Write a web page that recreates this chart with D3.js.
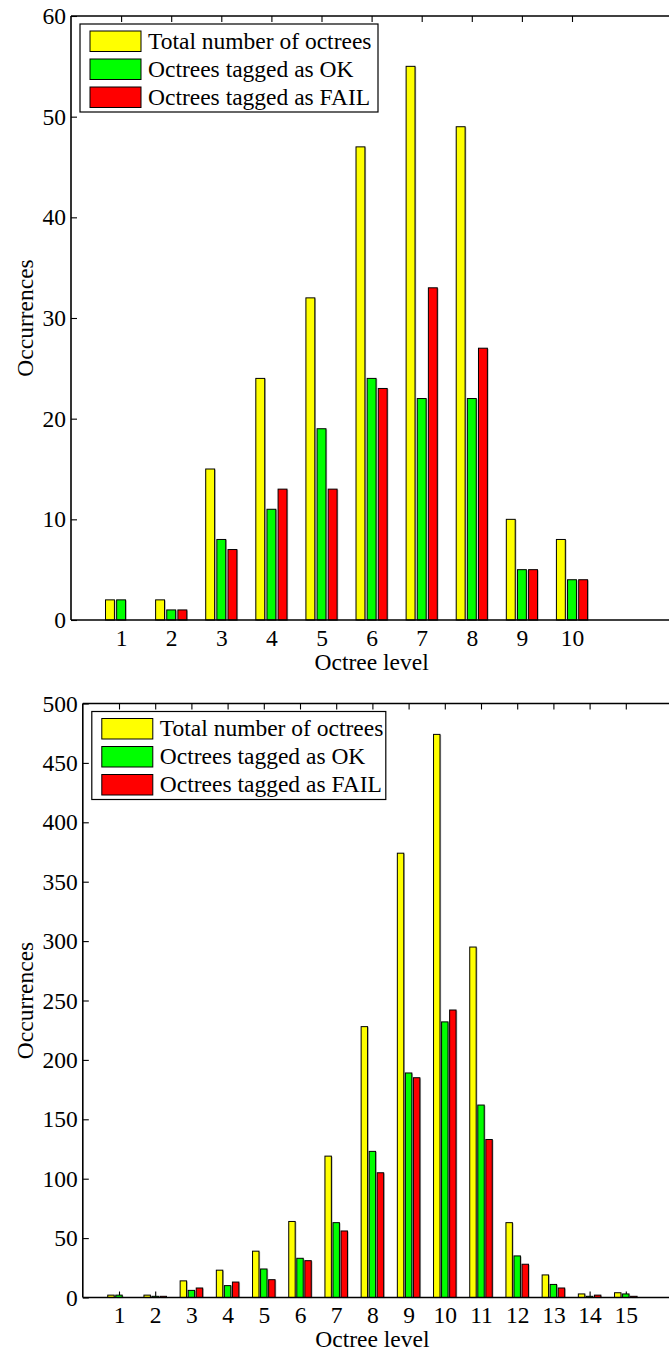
<!DOCTYPE html>
<html>
<head>
<meta charset="utf-8">
<script src="https://cdn.jsdelivr.net/npm/d3@7"></script>
<style>
  html, body { margin: 0; padding: 0; background: #fff; }
  svg { display: block; }
  text { font-family: "Liberation Serif", "Times New Roman", serif; fill: #000; }
</style>
</head>
<body>
<svg id="chart" width="669" height="1351"></svg>
<script>
// Series names and colours
const seriesNames = ["Total number of octrees", "Octrees tagged as OK", "Octrees tagged as FAIL"];
const seriesColors = ["#ffff00", "#00ff00", "#ff0000"];

// Upper panel: octree levels 1..10
const levelsA = [1, 2, 3, 4, 5, 6, 7, 8, 9, 10];
const totalA  = [2, 2, 15, 24, 32, 47, 55, 49, 10, 8];
const okA     = [2, 1, 8, 11, 19, 24, 22, 22, 5, 4];
const failA   = [0, 1, 7, 13, 13, 23, 33, 27, 5, 4];
const yTicksA = [0, 10, 20, 30, 40, 50, 60];

// Lower panel: octree levels 1..15
const levelsB = [1, 2, 3, 4, 5, 6, 7, 8, 9, 10, 11, 12, 13, 14, 15];
const totalB  = [2, 2, 14, 23, 39, 64, 119, 228, 374, 474, 295, 63, 19, 3, 4];
const okB     = [2, 1, 6, 10, 24, 33, 63, 123, 189, 232, 162, 35, 11, 1, 3];
const failB   = [0, 1, 8, 13, 15, 31, 56, 105, 185, 242, 133, 28, 8, 2, 1];
const yTicksB = [0, 50, 100, 150, 200, 250, 300, 350, 400, 450, 500];

const FONT = 23.5;
const svg = d3.select("#chart");

function drawPanel(cfg) {
  const { levels, series, yTicks, xMax, yMax, left, right, top, bottom } = cfg;
  const g = svg.append("g");

  const x = d3.scaleLinear().domain([0, xMax]).range([left, right]);
  const y = d3.scaleLinear().domain([0, yMax]).range([bottom, top]);
  const frameRight = 680; // axes box continues past the page edge

  // Axes with inward ticks (drawn first so the bars cover the ticks)
  const yAxis = d3.axisLeft(y).tickValues(yTicks).tickSize(-6).tickSizeOuter(0).tickPadding(5);
  const xAxis = d3.axisBottom(x).tickValues(levels).tickSize(-6).tickSizeOuter(0).tickPadding(9);
  const xTop  = d3.axisTop(x).tickValues(levels).tickSize(-6).tickSizeOuter(0).tickFormat("");

  const gy = g.append("g").attr("transform", `translate(${left},0)`).call(yAxis);
  const gx = g.append("g").attr("transform", `translate(0,${bottom})`).call(xAxis);
  const gt = g.append("g").attr("transform", `translate(0,${top})`).call(xTop);

  [gy, gx, gt].forEach(a => {
    a.select(".domain").remove();
    a.selectAll(".tick line").attr("stroke", "#000").attr("stroke-width", 1.1);
    a.selectAll(".tick text")
      .style("font-family", '"Liberation Serif", "Times New Roman", serif')
      .style("font-size", FONT + "px")
      .attr("fill", "#000");
  });

  // Grouped bars: three series side by side around each level
  const step = 2 / 9;          // spacing between bars within a group (axis units)
  const barW = 0.8 * step;     // bar width (axis units)
  const pxW = x(barW) - x(0);

  series.forEach((vals, si) => {
    const off = (si - 1) * step;
    const data = levels.map((l, i) => ({ l, v: vals[i] })).filter(d => d.v > 0);
    const bars = g.append("g");
    // soft grey edge on the right of each bar
    bars.selectAll("rect.shade")
      .data(data)
      .join("rect")
      .attr("class", "shade")
      .attr("x", d => x(d.l + off) - pxW / 2 + 1.2)
      .attr("y", d => y(d.v) + 0.6)
      .attr("width", pxW)
      .attr("height", d => bottom - y(d.v))
      .attr("fill", "#b0b0b0");
    bars.selectAll("rect.bar")
      .data(data)
      .join("rect")
      .attr("class", "bar")
      .attr("x", d => x(d.l + off) - pxW / 2)
      .attr("y", d => y(d.v))
      .attr("width", pxW)
      .attr("height", d => bottom - y(d.v))
      .attr("fill", seriesColors[si])
      .attr("stroke", "#000")
      .attr("stroke-width", 1);
  });

  // Axes frame on top of the bars
  const frame = g.append("g").attr("stroke", "#000").attr("stroke-width", 1.6);
  frame.append("line").attr("x1", left).attr("x2", left).attr("y1", top).attr("y2", bottom);
  frame.append("line").attr("x1", left).attr("x2", frameRight).attr("y1", bottom).attr("y2", bottom);
  frame.append("line").attr("x1", left).attr("x2", frameRight).attr("y1", top).attr("y2", top);

  // Axis titles
  g.append("text")
    .attr("x", x(xMax / 2))
    .attr("y", cfg.xTitleY)
    .attr("text-anchor", "middle")
    .style("font-size", FONT + "px")
    .text("Octree level");
  g.append("text")
    .attr("transform", `translate(33,${(top + bottom) / 2}) rotate(-90)`)
    .attr("text-anchor", "middle")
    .style("font-size", FONT + "px")
    .text("Occurrences");

  // Legend
  const lx = left + 9, ly = top + 8;
  const leg = g.append("g").attr("transform", `translate(${lx},${ly})`);
  leg.append("rect")
    .attr("width", cfg.legendW).attr("height", 88)
    .attr("fill", "#fff").attr("stroke", "#000").attr("stroke-width", 1.2);
  seriesNames.forEach((name, i) => {
    const ry = 7 + i * 28;
    leg.append("rect")
      .attr("x", 10).attr("y", ry)
      .attr("width", 51).attr("height", 20.5)
      .attr("fill", seriesColors[i]).attr("stroke", "#000").attr("stroke-width", 1);
    leg.append("text")
      .attr("x", 68).attr("y", ry + 17.5)
      .style("font-size", FONT + "px")
      .text(name);
  });
}

drawPanel({
  levels: levelsA, series: [totalA, okA, failA], yTicks: yTicksA,
  xMax: 12, yMax: 60, left: 71, right: 672.2, top: 16, bottom: 620,
  xTitleY: 670, legendW: 298
});

drawPanel({
  levels: levelsB, series: [totalB, okB, failB], yTicks: yTicksB,
  xMax: 16, yMax: 500, left: 82.8, right: 662, top: 703.5, bottom: 1297.5,
  xTitleY: 1347, legendW: 294
});
</script>
</body>
</html>
